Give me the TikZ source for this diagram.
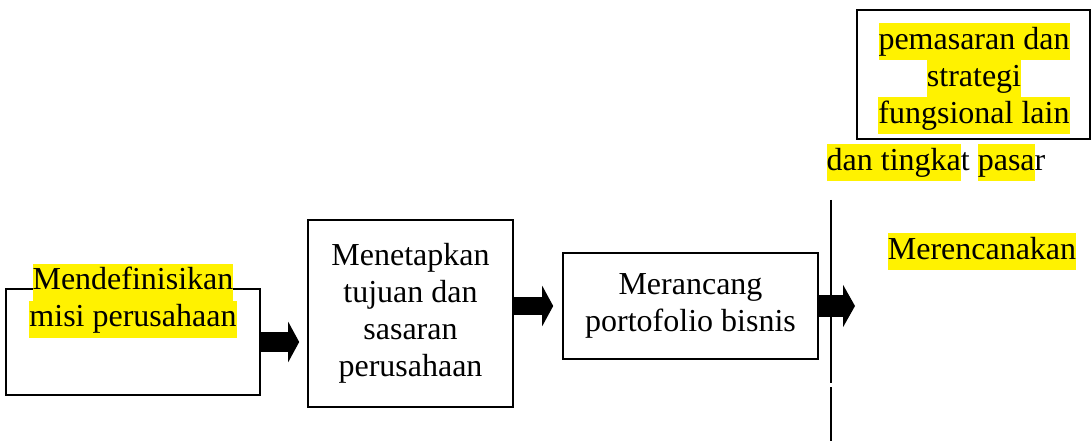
\documentclass[tikz,border=0pt]{standalone}
\usepackage{fontspec}
\setmainfont{Liberation Serif}
\usetikzlibrary{arrows.meta}
\newcommand\hlt[1]{{\setlength\fboxsep{0pt}\colorbox{yellow}{\strut#1}}}
\tikzset{
  txt/.style={font=\fontsize{32}{37}\selectfont, align=center, inner sep=0pt},
  box/.style={draw, line width=1.6pt, txt},
  thickbox/.style={draw, line width=2.8pt, txt},
  blockarrow/.style={line width=20pt, -{Triangle[length=11pt,width=40pt]}},
  divider/.style={line width=1.8pt},
}
\begin{document}
\begin{tikzpicture}[x=1pt,y=-1pt]
\useasboundingbox (0,0) rectangle (1091,443);
% boxes
\node[box, minimum width=254pt, minimum height=106pt] (b1) at (133,342) {};
\node[txt] (t1) at (133,301) {\hlt{Mendefinisikan}\\\hlt{misi perusahaan}};
\node[box, minimum width=205pt, minimum height=187pt] (b2) at (410.5,313.5)
  {\strut Menetapkan\\\strut tujuan dan\\\strut sasaran\\\strut perusahaan};
\node[box, minimum width=255pt, minimum height=106pt] (b3) at (690.5,306)
  {\strut Merancang\\\strut portofolio bisnis};
\node[thickbox, minimum width=233pt, minimum height=129pt] (b4) at (973.5,74.5) {};
\node[txt] (t4) at (974,79)
  {\hlt{pemasaran dan}\\\hlt{strategi}\\\hlt{fungsional lain}};
\node[txt] (t5) at (936,163) {\hlt{dan tingka}t \hlt{pasa}r};
\node[txt] (t6) at (982,252) {\hlt{Merencanakan}};
% divider line
\coordinate (d1) at (831,200);
\coordinate (d2) at (831,383);
\coordinate (d3) at (831,387);
\coordinate (d4) at (831,441);
\draw[divider] (d1) -- (d2);
\draw[divider] (d3) -- (d4);
% arrows
\coordinate (a3end) at (855,306);
\draw[blockarrow] (b1.east) -- ([xshift=-8pt]b2.west |- b1.east);
\draw[blockarrow, line width=18pt] (b2.east |- b3.west) -- ([xshift=-9pt]b3.west);
\draw[blockarrow, line width=22pt, -{Triangle[length=12pt,width=42pt]}] (b3.east) -- (a3end);
\end{tikzpicture}
\end{document}
